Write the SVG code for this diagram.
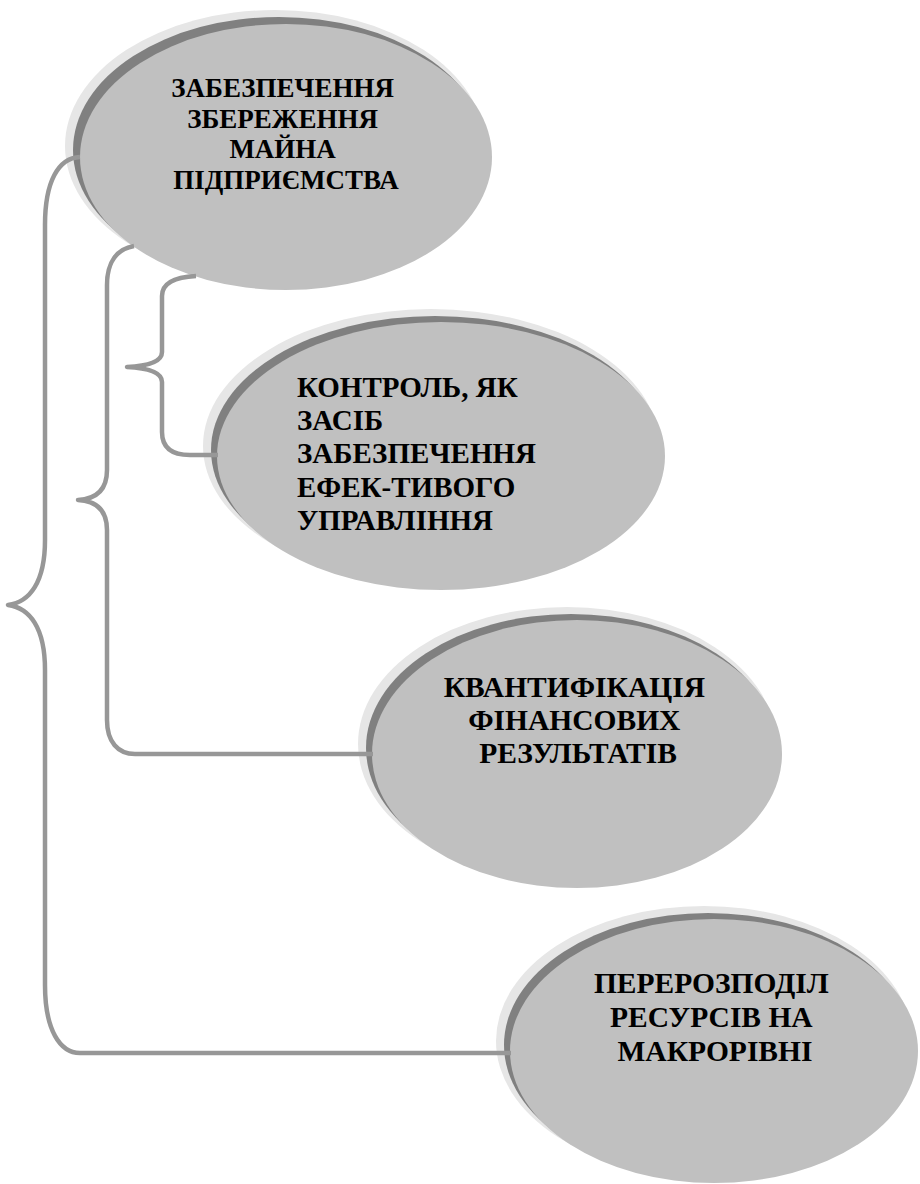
<svg xmlns="http://www.w3.org/2000/svg" width="920" height="1184" viewBox="0 0 920 1184">
  <style>
    .glow { fill: #e6e6e6; }
    .rim { fill: #808080; }
    .face { fill: #c0c0c0; }
    .label { font-family: "Liberation Serif", "Times New Roman", serif; font-weight: bold; fill: #000000; }
    .mid { text-anchor: middle; }
    .link { fill: none; stroke: #979797; stroke-width: 4.5; stroke-linecap: butt; stroke-linejoin: round; }
  </style>

  <rect width="920" height="1184" fill="#ffffff"/>

  <!-- Node 1 -->
  <g id="node-property">
    <ellipse class="glow" cx="275" cy="146" rx="210" ry="136"/>
    <ellipse class="rim" cx="279" cy="150" rx="206" ry="133"/>
    <ellipse class="face" cx="286" cy="157" rx="206" ry="133"/>
    <text class="label mid" font-size="27">
      <tspan x="286" y="97">ЗАБЕЗПЕЧЕННЯ</tspan>
      <tspan x="286" y="128">ЗБЕРЕЖЕННЯ</tspan>
      <tspan x="286" y="158">МАЙНА</tspan>
      <tspan x="286" y="189">ПІДПРИЄМСТВА</tspan>
    </text>
  </g>

  <!-- Node 2 -->
  <g id="node-control">
    <ellipse class="glow" cx="431" cy="446" rx="228" ry="137"/>
    <ellipse class="rim" cx="435" cy="450" rx="224" ry="134"/>
    <ellipse class="face" cx="441" cy="456" rx="224" ry="134"/>
    <text class="label" font-size="29">
      <tspan x="297" y="397">КОНТРОЛЬ, ЯК</tspan>
      <tspan x="297" y="430">ЗАСІБ</tspan>
      <tspan x="297" y="463">ЗАБЕЗПЕЧЕННЯ</tspan>
      <tspan x="297" y="497">ЕФЕК-ТИВОГО</tspan>
      <tspan x="297" y="530">УПРАВЛІННЯ</tspan>
    </text>
  </g>

  <!-- Node 3 -->
  <g id="node-results">
    <ellipse class="glow" cx="567" cy="744" rx="209" ry="137"/>
    <ellipse class="rim" cx="571" cy="748" rx="205" ry="134"/>
    <ellipse class="face" cx="577" cy="754" rx="205" ry="134"/>
    <text class="label mid" font-size="29.5">
      <tspan x="578" y="697">КВАНТИФІКАЦІЯ</tspan>
      <tspan x="578" y="730">ФІНАНСОВИХ</tspan>
      <tspan x="578" y="763">РЕЗУЛЬТАТІВ</tspan>
    </text>
  </g>

  <!-- Node 4 -->
  <g id="node-resources">
    <ellipse class="glow" cx="704" cy="1041" rx="208" ry="135"/>
    <ellipse class="rim" cx="708" cy="1045" rx="204" ry="132"/>
    <ellipse class="face" cx="714" cy="1051" rx="204" ry="132"/>
    <text class="label mid" font-size="29.5">
      <tspan x="715" y="993">ПЕРЕРОЗПОДІЛ</tspan>
      <tspan x="715" y="1027">РЕСУРСІВ НА</tspan>
      <tspan x="715" y="1061">МАКРОРІВНІ</tspan>
    </text>
  </g>

  <!-- Brace connectors -->
  <g id="connectors">
    <path class="link" d="M80,157 C58,158 45,182 45,225 L45,540 C45,582 30,602 8,605 C30,608 45,628 45,670 L45,985 C45,1030 60,1053 80,1053 L511,1053"/>
    <path class="link" d="M134,246 C117,249 107,262 107,285 L107,470 C107,490 96,499 78,500 C96,501 107,510 107,530 L107,720 C107,742 118,754 135,754 L373,754"/>
    <path class="link" d="M196,276 C176,277 162,282 162,296 L162,352 C162,362 148,366 127,367 C148,368 162,372 162,382 L162,432 C162,448 172,455 190,455 L218,455"/>
  </g>
</svg>
